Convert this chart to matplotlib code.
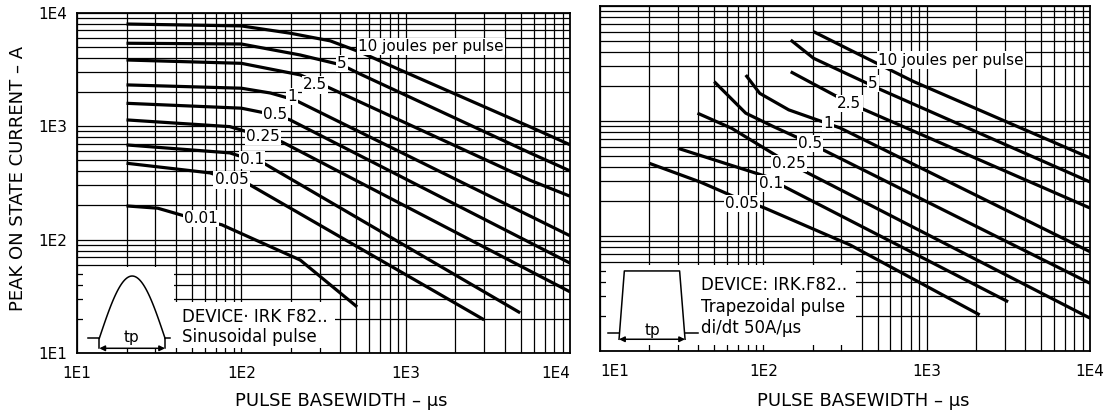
import matplotlib
matplotlib.use('Agg')
from matplotlib import pyplot as plt
from matplotlib.patches import Rectangle
from matplotlib.ticker import NullFormatter
import numpy as np

# tick labels of both log axes
decades = [10, 100, 1000, 10000]
decade_labels = ['1E1', '1E2', '1E3', '1E4']

# left chart: sinusoidal pulse, energy per pulse curves (x = us, y = A)
sin_energy = ['10 joules per pulse', '5', '2.5', '1', '0.5', '0.25', '0.1', '0.05', '0.01']
sin_x = [
    [20, 100, 198, 347, 528, 925, 5720, 10000],
    [20, 100, 228, 408, 528, 5720, 10000],
    [20, 100, 228, 347, 5720, 10000],
    [20, 100, 150, 212, 10000],
    [20, 100, 160, 198, 10000],
    [20, 85, 136, 177, 10000],
    [20, 85, 116, 139, 4970],
    [20, 64.5, 87, 110, 3000],
    [20, 31, 47.5, 76, 228, 506],
]
sin_y = [
    [7950, 7650, 6600, 5650, 4500, 3130, 985, 685],
    [5380, 5300, 4240, 3460, 2880, 580, 403],
    [3830, 3580, 2830, 2160, 333, 241],
    [2310, 2160, 1960, 1700, 108],
    [1590, 1440, 1255, 1135, 62],
    [1135, 990, 810, 725, 34.6],
    [683, 581, 504, 465, 22.6],
    [471, 387, 336, 310, 19.6],
    [198, 189, 158, 135, 66, 25.5],
]
sin_lab_x = [513, 408, 281, 203, 160, 136, 116, 87, 57]
sin_lab_y = [5020, 3580, 2310, 1820, 1255, 808, 504, 336, 154]

# right chart: trapezoidal pulse
trap_energy = ['10 joules per pulse', '5', '2.5', '1', '0.5', '0.25', '0.1', '0.05']
trap_x = [
    [203, 340, 833, 10000],
    [147, 203, 529, 10000],
    [147, 336, 10000],
    [78, 95, 143, 295, 10000],
    [50, 78, 116, 193, 10000],
    [39.5, 64, 143, 10000],
    [30, 105, 132, 3150],
    [20, 41, 67, 102, 340, 2110],
]
trap_y = [
    [5980, 4140, 2200, 477],
    [5060, 3510, 1860, 295],
    [2680, 1430, 175],
    [2510, 1740, 1250, 870, 73],
    [2200, 1170, 890, 640, 38.8],
    [1170, 864, 430, 19.3],
    [579, 328, 272, 26.8],
    [429, 295, 218, 175, 83.5, 20.6],
]
trap_lab_x = [504, 466, 336, 249, 193, 143, 111, 74]
trap_lab_y = [3390, 2127, 1426, 955, 640, 429, 287, 192]

plt.rcParams['font.family'] = ['DejaVu Sans']

fig = plt.figure(figsize=(11.18, 4.17), dpi=100)
ax1 = fig.add_axes([0.0689, 0.1535, 0.4410, 0.8160])
ax2 = fig.add_axes([0.5367, 0.1583, 0.4383, 0.8273])


def setup(ax):
    ax.set_xscale('log')
    ax.set_yscale('log')
    ax.set_xlim(10, 10000)
    ax.set_ylim(10, 10000)
    ax.set_axisbelow(True)
    ax.grid(True, which='both', color='black', lw=0.9)
    ax.set_xticks(decades)
    ax.set_xticklabels(decade_labels)
    ax.set_yticks(decades)
    ax.set_yticklabels(decade_labels)
    ax.xaxis.set_minor_formatter(NullFormatter())
    ax.yaxis.set_minor_formatter(NullFormatter())
    ax.tick_params(which='both', direction='in', length=0, labelsize=11)
    ax.tick_params(axis='x', pad=9.5)
    ax.tick_params(axis='y', pad=7)
    for s in ax.spines.values():
        s.set_linewidth(1.3)


def curves(ax, xs, ys, names, lx, ly):
    for x, y in zip(xs, ys):
        ax.plot(x, y, color='black', lw=2.3, zorder=3, solid_capstyle='butt')
    for i, name in enumerate(names):
        ha = 'left' if i == 0 else 'center'
        ax.text(lx[i], ly[i], name, ha=ha, va='center', fontsize=11, zorder=4,
                bbox=dict(boxstyle='square,pad=0.08', fc='white', ec='none'))


setup(ax1)
setup(ax2)
ax2.tick_params(axis='y', labelleft=False)
curves(ax1, sin_x, sin_y, sin_energy, sin_lab_x, sin_lab_y)
curves(ax2, trap_x, trap_y, trap_energy, trap_lab_x, trap_lab_y)

# shift the outer tick labels like in the datasheet
ax1.get_xticklabels()[-1].set_ha('right')
ax2.get_xticklabels()[0].set_ha('left')

# --- inset of the left chart (sinusoidal pulse)
T = ax1.transAxes
ax1.add_patch(Rectangle((0.012, 0.016), 0.185, 0.237, transform=T, fc='white', ec='none', zorder=2))
ax1.add_patch(Rectangle((0.012, 0.016), 0.511, 0.134, transform=T, fc='white', ec='none', zorder=2))
t = np.linspace(0, 1, 80)
ax1.plot(0.0452 + t * 0.1333, 0.0432 + 0.183 * np.sin(np.pi * t), transform=T, color='black', lw=1.1, zorder=3)
ax1.plot([0.0223, 0.0452, 0.0452], [0.0432, 0.0432, 0.0138], transform=T, color='black', lw=1.1, zorder=3)
ax1.plot([0.1785, 0.1785, 0.1886], [0.0138, 0.0432, 0.0432], transform=T, color='black', lw=1.1, zorder=3)
ax1.annotate('', xy=(0.0452, 0.0138), xytext=(0.1785, 0.0138), xycoords=T, textcoords=T, zorder=3,
             arrowprops=dict(arrowstyle='<|-|>', color='black', lw=1.1, mutation_scale=8, shrinkA=0, shrinkB=0))
ax1.text(0.111, 0.046, 'tp', transform=T, ha='center', va='center', fontsize=11, zorder=4)
ax1.text(0.212, 0.107, 'DEVICE· IRK F82..', transform=T, ha='left', va='center', fontsize=12, zorder=4)
ax1.text(0.212, 0.048, 'Sinusoidal pulse', transform=T, ha='left', va='center', fontsize=12, zorder=4)

# --- inset of the right chart (trapezoidal pulse)
T = ax2.transAxes
ax2.add_patch(Rectangle((0.012, 0.016), 0.510, 0.233, transform=T, fc='white', ec='none', zorder=2))
ax2.plot([0.0388, 0.0496, 0.1624, 0.1735], [0.034, 0.232, 0.232, 0.034], transform=T, color='black', lw=1.1, zorder=3)
ax2.plot([0.0163, 0.0397], [0.0513, 0.0513], transform=T, color='black', lw=1.1, zorder=3)
ax2.plot([0.1726, 0.199], [0.0513, 0.0513], transform=T, color='black', lw=1.1, zorder=3)
ax2.annotate('', xy=(0.0388, 0.034), xytext=(0.1735, 0.034), xycoords=T, textcoords=T, zorder=3,
             arrowprops=dict(arrowstyle='<|-|>', color='black', lw=1.1, mutation_scale=8, shrinkA=0, shrinkB=0))
ax2.text(0.108, 0.058, 'tp', transform=T, ha='center', va='center', fontsize=11, zorder=4)
ax2.text(0.206, 0.191, 'DEVICE: IRK.F82..', transform=T, ha='left', va='center', fontsize=12, zorder=4)
ax2.text(0.206, 0.128, 'Trapezoidal pulse', transform=T, ha='left', va='center', fontsize=12, zorder=4)
ax2.text(0.206, 0.066, 'di/dt 50A/\u03bcs', transform=T, ha='left', va='center', fontsize=12, zorder=4)

# axis titles
fig.text(0.016, 0.571, 'PEAK ON STATE CURRENT \u2013 A', rotation=90, ha='center', va='center', fontsize=13)
fig.text(0.305, 0.038, 'PULSE BASEWIDTH \u2013 \u03bcs', ha='center', va='center', fontsize=13)
fig.text(0.772, 0.038, 'PULSE BASEWIDTH \u2013 \u03bcs', ha='center', va='center', fontsize=13)

fig.savefig('out.png', dpi=100)
